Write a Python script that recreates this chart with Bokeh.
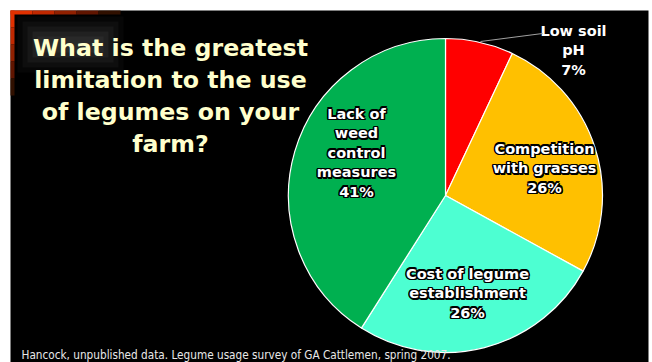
import math
from bokeh.plotting import figure
from bokeh.models import Range1d
from bokeh.core.properties import value
from bokeh.embed import file_html
from bokeh.resources import INLINE

# ---- data ----
categories = ["Low soil pH", "Competition with grasses",
              "Cost of legume establishment", "Lack of weed control measures"]
values = [7, 26, 26, 41]
colors = ["#FF0000", "#FFC000", "#4DFFD2", "#00B050"]
label_lines = [["Low soil", "pH"], ["Competition", "with grasses"],
               ["Cost of legume", "establishment"], ["Lack of", "weed", "control", "measures"]]
title_lines = ["What is the greatest", "limitation to the use", "of legumes on your", "farm?"]
footnote = "Hancock, unpublished data. Legume usage survey of GA Cattlemen, spring 2007."

W, H = 652, 362
def Y(py):  # pixel-from-top to data y
    return H - py

p = figure(width=W, height=H, output_backend="svg", toolbar_location=None,
           x_range=Range1d(0, W), y_range=Range1d(0, H), min_border=0)
p.axis.visible = False
p.grid.visible = False
p.outline_line_color = None
p.background_fill_color = "white"
p.border_fill_color = "white"

# slide background
p.quad(left=10, right=648, bottom=Y(362), top=Y(10), fill_color="black", line_color=None)

# decorative corner
for i, a in enumerate([0.08, 0.12, 0.16, 0.20, 0.22]):
    d = i * 5
    p.quad(left=17 + d, right=123 - d, bottom=Y(72 - d), top=Y(16 + d),
           fill_color="#4a4a4a", fill_alpha=a, line_color=None)
reds = ["#E03000", "#C02800", "#902000", "#601500", "#301000"]
for i, c in enumerate(reds):
    p.quad(left=10, right=14, top=Y(10 + i * 17), bottom=Y(10 + (i + 1) * 17),
           fill_color=c, line_color=None)
    p.quad(left=10 + i * 22, right=10 + (i + 1) * 22, top=Y(10), bottom=Y(14),
           fill_color=c, line_color=None)

# pie
cx, cy, r = 445, Y(195), 157
total = float(sum(values))
cum = 0.0
starts, ends = [], []
for v in values:
    starts.append(math.pi / 2 - 2 * math.pi * cum / total)
    cum += v
    ends.append(math.pi / 2 - 2 * math.pi * cum / total)
p.wedge(x=[cx] * len(values), y=[cy] * len(values), radius=r,
        start_angle=starts, end_angle=ends, direction="clock",
        fill_color=colors, line_color="white", line_width=1.2)

# title
ty = [47, 79, 111, 143]
for t, yy in zip(title_lines, ty):
    p.text(x=[170], y=[Y(yy)], text=[t], text_align="center", text_baseline="middle",
           text_color="#FFFFCC", text_font=value("DejaVu Sans"), text_font_style="bold",
           text_font_size="23.7px")

# slice labels
centers = [(573, 30), (544, 148), (467, 273), (356, 113)]
spacing = 19.5
offsets = [(-1.5, 0), (1.5, 0), (0, -1.5), (0, 1.5), (-1.1, -1.1), (1.1, 1.1),
           (-1.1, 1.1), (1.1, -1.1), (1.5, 1.8)]
for i, (lines, v) in enumerate(zip(label_lines, values)):
    allines = lines + ["%d%%" % v]
    x0, y0 = centers[i]
    kw = dict(text_align="center", text_baseline="middle",
              text_font=value("DejaVu Sans"), text_font_style="bold",
              text_font_size="14.5px")
    xs = [x0] * len(allines)
    ys = [Y(y0 + k * spacing) for k in range(len(allines))]
    if i > 0:
        for dx, dy in offsets:
            p.text(x=[xx + dx for xx in xs], y=[yy - dy for yy in ys], text=allines,
                   text_color="black", **kw)
    p.text(x=xs, y=ys, text=allines, text_color="white", **kw)

# leader line for small slice
p.line(x=[542, 480], y=[Y(33), Y(41)], line_color="#A0A0A0", line_width=1)

# footnote
p.text(x=[21], y=[Y(354)], text=[footnote], text_align="left", text_baseline="middle",
       text_color="#E8E8E8", text_font=value("DejaVu Sans Condensed"),
       text_font_size="11.7px")

open("out.html", "w").write(file_html(p, INLINE))
